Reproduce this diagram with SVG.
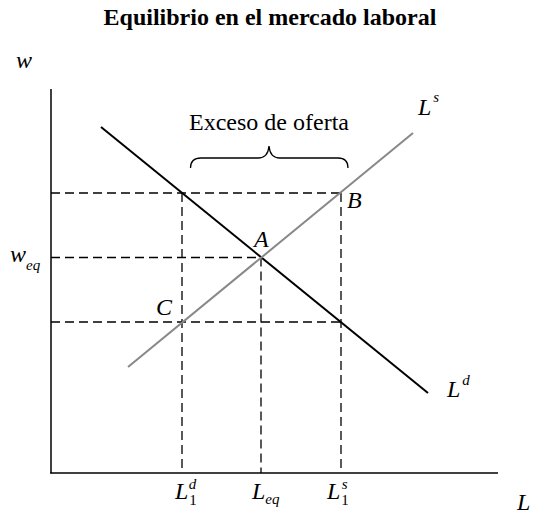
<svg xmlns="http://www.w3.org/2000/svg" width="533" height="515" viewBox="0 0 533 515">
<style>
.t{font-family:"Liberation Serif","Times New Roman",serif;fill:#000}
.m{font-family:"Liberation Serif","Times New Roman",serif;font-style:italic;font-size:24px;fill:#000}
.s{font-size:15px}
.sn{font-style:normal;font-size:15px}
.ax{stroke:#000;stroke-width:1.5;fill:none}
.d{stroke:#000;stroke-width:1.3;stroke-dasharray:9 5;fill:none}
</style>
<rect width="533" height="515" fill="#fff"/>
<text class="t" x="270" y="25" text-anchor="middle" font-size="24" font-weight="bold">Equilibrio en el mercado laboral</text>
<g id="axes">
<line class="ax" x1="51" y1="89" x2="51" y2="473.5"/>
<line class="ax" x1="50.25" y1="473" x2="498" y2="473"/>
<text class="m" x="16" y="68">w</text>
<text class="m" x="517" y="510">L</text>
</g>
<g id="guides">
<line class="d" x1="51" y1="193" x2="341" y2="193"/>
<line class="d" x1="51" y1="257.5" x2="261" y2="257.5"/>
<line class="d" x1="51" y1="322" x2="341" y2="322"/>
<line class="d" x1="182" y1="193" x2="182" y2="473"/>
<line class="d" x1="261" y1="257.5" x2="261" y2="473"/>
<line class="d" x1="341" y1="193" x2="341" y2="473"/>
</g>
<g id="curves">
<line id="demand" x1="101" y1="127" x2="428" y2="393" stroke="#000" stroke-width="2"/>
<line id="supply" x1="128" y1="367" x2="413" y2="133" stroke="#888" stroke-width="2"/>
</g>
<g id="brace">
<path d="M190.5,168 Q190.5,158 201,158 L258,158 Q268,158 269,146 Q270,158 280,158 L338,158 Q348,158 348,168" fill="none" stroke="#000" stroke-width="1.3"/>
<text class="t" x="269" y="130" text-anchor="middle" font-size="24">Exceso de oferta</text>
</g>
<g id="labels">
<text class="m" x="418" y="115">L<tspan class="s" dx="2" dy="-13">s</tspan></text>
<text class="m" x="447" y="397">L<tspan class="s" dx="2" dy="-12">d</tspan></text>
<text class="m" x="347" y="208">B</text>
<text class="m" x="254" y="247">A</text>
<text class="m" x="156" y="315">C</text>
<text class="m" x="10" y="262">w<tspan class="s" dy="8">eq</tspan></text>
<text class="m" x="175" y="499">L<tspan class="sn" dx="1" dy="6">1</tspan><tspan class="s" dx="-8" dy="-16">d</tspan></text>
<text class="m" x="252" y="499">L<tspan class="s" dy="5">eq</tspan></text>
<text class="m" x="327" y="499">L<tspan class="sn" dx="1" dy="6">1</tspan><tspan class="s" dx="-7" dy="-16">s</tspan></text>
</g>
</svg>
